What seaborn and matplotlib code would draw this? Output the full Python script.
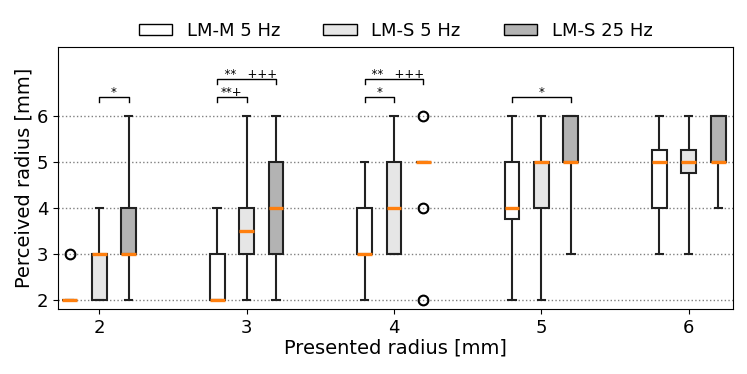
"""
Perceived vs presented radius, box plots per condition
"""

import pandas as pd
import matplotlib
matplotlib.use('Agg')
import matplotlib.pyplot as plt
from matplotlib.patches import Patch
import seaborn as sns

# raw responses per presented radius
radii = [2, 3, 4, 5, 6]
conditions = ['LM-M 5 Hz', 'LM-S 5 Hz', 'LM-S 25 Hz']

lmm_5hz = {
    2: [2, 2, 2, 2, 2, 2, 2, 2, 3],
    3: [2, 2, 2, 2, 2, 3, 3, 3, 4],
    4: [2, 3, 3, 3, 3, 4, 4, 4, 5],
    5: [2, 3, 3, 4, 4, 4, 4, 5, 5, 5, 5, 6],
    6: [3, 4, 4, 4, 4, 5, 5, 5, 5, 6, 6, 6],
}
lms_5hz = {
    2: [2, 2, 2, 3, 3, 3, 3, 3, 4],
    3: [2, 3, 3, 3, 3, 4, 4, 4, 4, 6],
    4: [3, 3, 3, 4, 4, 4, 5, 5, 6],
    5: [2, 4, 4, 5, 5, 5, 5, 5, 6],
    6: [3, 4, 4, 5, 5, 5, 5, 5, 5, 6, 6, 6],
}
lms_25hz = {
    2: [2, 3, 3, 3, 3, 4, 4, 4, 6],
    3: [2, 3, 3, 4, 4, 4, 5, 5, 6],
    4: [2, 4, 5, 5, 5, 5, 5, 5, 5, 6],
    5: [3, 5, 5, 5, 5, 6, 6, 6, 6],
    6: [4, 5, 5, 5, 5, 6, 6, 6, 6],
}

# significance brackets: (x_start, x_end, y, label)
brackets = [
    (2.0, 2.2, 6.41, '*'),
    (2.8, 3.0, 6.41, '**+'),
    (2.8, 3.2, 6.80, '  **   +++'),
    (3.8, 4.0, 6.41, '*'),
    (3.8, 4.2, 6.80, '  **   +++'),
    (4.8, 5.2, 6.41, '*'),
]

rows = []
for cond, d in zip(conditions, [lmm_5hz, lms_5hz, lms_25hz]):
    for r in radii:
        for v in d[r]:
            rows.append({'presented': r, 'perceived': v, 'condition': cond})
df = pd.DataFrame(rows)

colors = ['#ffffff', '#e6e6e6', '#b3b3b3']

fig = plt.figure(figsize=(7.47, 3.74), dpi=100)
ax = fig.add_axes([0.0776, 0.174, 0.9036, 0.70])

sns.boxplot(data=df, x='presented', y='perceived', hue='condition',
            hue_order=conditions, palette=colors, native_scale=True,
            width=0.6, gap=0.5, whis=4, linewidth=1.5, linecolor='#222222',
            medianprops=dict(color='#ff7f0e', linewidth=2.4),
            flierprops=dict(marker='o', markersize=7, markerfacecolor='none',
                            markeredgecolor='black', markeredgewidth=1.5),
            legend=False, ax=ax, zorder=3)

ax.set_xlim(1.72, 6.3)
ax.set_ylim(1.8, 7.5)
ax.set_yticks([2, 3, 4, 5, 6])
ax.set_xticks(radii)
ax.yaxis.grid(True, linestyle=':', color='gray', linewidth=1)
ax.set_axisbelow(True)
ax.tick_params(labelsize=13)
ax.set_xlabel('Presented radius [mm]', fontsize=14, labelpad=1)
ax.set_ylabel('Perceived radius [mm]', fontsize=14, labelpad=2)

# significance annotations
for x0, x1, y, lab in brackets:
    ax.plot([x0, x0, x1, x1], [y - 0.11, y, y, y - 0.11], color='black', lw=1)
    ax.text((x0 + x1) / 2, y + 0.03, lab, ha='center', va='baseline', fontsize=8.5)

handles = [Patch(facecolor=c, edgecolor='black', label=l) for c, l in zip(colors, conditions)]
ax.legend(handles=handles, loc='lower center', bbox_to_anchor=(0.5, 1.0), ncol=3,
          frameon=False, fontsize=13, handlelength=1.85, handleheight=0.55,
          handletextpad=0.8, columnspacing=2.4, borderaxespad=0.0)

plt.savefig('out.png', dpi=100)
